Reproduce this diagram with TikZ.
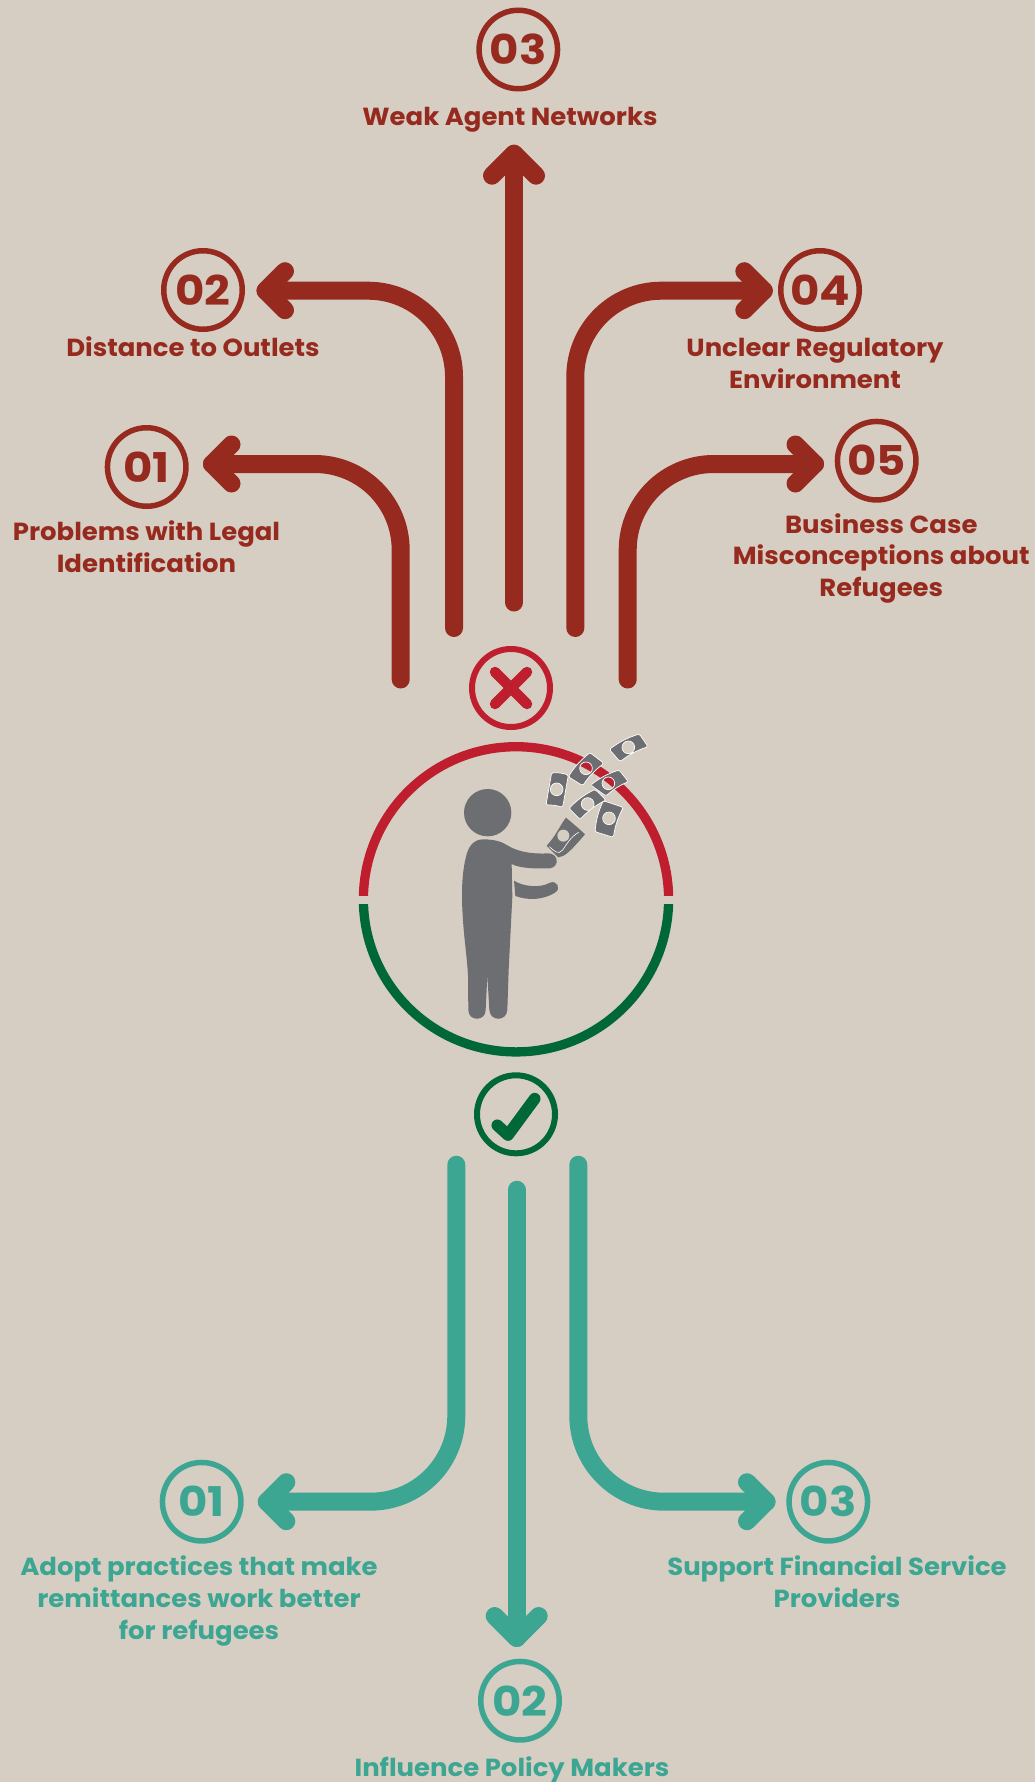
\documentclass[tikz,border=0pt]{standalone}
\usepackage{fontspec}
\setmainfont{Poppins}[UprightFont=* Bold,FakeStretch=1.05]
\newfontfamily\digitfont{Poppins}[UprightFont=* Bold,FakeStretch=1.1]
\usetikzlibrary{calc}
\definecolor{bgc}{HTML}{D7CEC3}
\definecolor{rust}{HTML}{962A1E}
\definecolor{teal}{HTML}{3DA693}
\definecolor{crim}{HTML}{BE1E2D}
\definecolor{forest}{HTML}{006838}
\definecolor{slategray}{HTML}{6D6E71}
\tikzset{
  numc/.style={circle,draw=#1,text=#1,line width=5.5pt,minimum size=78.5pt,inner sep=0pt,font=\digitfont\fontsize{41}{41}\selectfont},
  lab/.style={text=#1,anchor=base,align=center,inner sep=0pt,font=\fontsize{24.7}{31.6}\selectfont},
  flow/.style={draw=#1,line width=18pt,line cap=round,line join=round,rounded corners=86pt},
  head/.style={draw=#1,line width=18pt,line cap=round,line join=round},
  billshape/.style={fill=slategray,draw=white,line width=0.7pt,even odd rule,line join=round,rounded corners=1.5pt},
}
\newcommand{\billat}[6]{% four corners, hole centre, hole radius
  \path[billshape] #1 to[bend left=9] #2 -- #3 to[bend right=9] #4 -- cycle #5 circle[radius=#6];}
\begin{document}
\begin{tikzpicture}[x=1pt,y=-1pt]
\useasboundingbox (0,0) rectangle (1035,1782);
\fill[bgc] (0,0) rectangle (1035,1782);

% upper numbered circles
\node[numc=rust] (r1) at (146.7,467) {01};
\node[numc=rust] (r2) at (203,290) {02};
\node[numc=rust] (r3) at (518.3,49.5) {03};
\node[numc=rust] (r4) at (820,290) {04};
\node[numc=rust] (r5) at (876.7,460.7) {05};
\node[lab=rust] (l1) at (146.5,572.3) {Problems with Legal\\Identification};
\node[lab=rust] (l2) at (193,356) {Distance to Outlets};
\node[lab=rust] (l3) at (510,125.7) {Weak Agent Networks};
\node[lab=rust] (l4) at (815,388.3) {Unclear Regulatory\\Environment};
\node[lab=rust] (l5) at (881.3,596.5) {Business Case\\Misconceptions about\\Refugees};

% upper connectors
\coordinate (s1) at (400.7,679.5); \coordinate (t1) at (212,464);
\coordinate (s2) at (454,628);     \coordinate (t2) at (265.5,290.7);
\coordinate (s3) at (514,602.5);   \coordinate (t3) at (514,153.7);
\coordinate (s4) at (575.3,628);   \coordinate (t4) at (763.8,290.7);
\coordinate (s5) at (627.7,679.5); \coordinate (t5) at (815,464);
\path[flow=rust] (s1) |- (t1);
\path[flow=rust] (s2) |- (t2);
\path[flow=rust] (s3) -- (t3);
\path[flow=rust] (s4) |- (t4);
\path[flow=rust] (s5) |- (t5);
\path[head=rust] (t1) ++(19.5,-19.5) -- ++(-19.5,19.5) -- ++(19.5,19.5);
\path[head=rust] (t2) ++(19.5,-19.5) -- ++(-19.5,19.5) -- ++(19.5,19.5);
\path[head=rust] (t3) ++(-22,22) -- ++(22,-22) -- ++(22,22);
\path[head=rust] (t4) ++(-19.5,-19.5) -- ++(19.5,19.5) -- ++(-19.5,19.5);
\path[head=rust] (t5) ++(-19.5,-19.5) -- ++(19.5,19.5) -- ++(-19.5,19.5);

% cross mark
\node[circle,draw=crim,line width=6pt,minimum size=78pt,inner sep=0pt] (cross) at (511,688) {};
\draw[crim,line width=10.5pt,line cap=round] (cross.center) ++(-16,-16) -- ++(32,32);
\draw[crim,line width=10.5pt,line cap=round] (cross.center) ++(16,-16) -- ++(-32,32);

% big ring, its two halves cut flat
\coordinate (ring) at (516,899.3);
\begin{scope}
\clip (340,730) rectangle (700,895);
\draw[crim,line width=9.3pt] (ring) circle[radius=152.6];
\end{scope}
\begin{scope}
\clip (340,904) rectangle (700,1070);
\draw[forest,line width=9.3pt] (ring) circle[radius=152.6];
\end{scope}

% flying banknotes
\begin{scope}[shift={(520,720)},x=0.33333pt,y=-0.33333pt]
\billat{(268,88)}{(358,42)}{(384,80)}{(300,125)}{(325,82)}{19}
\billat{(145,170)}{(210,98)}{(252,130)}{(188,197)}{(198,145)}{19}
\billat{(95,158)}{(145,165)}{(128,262)}{(78,255)}{(110,208)}{19}
\billat{(212,195)}{(297,150)}{(325,185)}{(258,228)}{(265,190)}{19}
\billat{(147,265)}{(225,208)}{(258,240)}{(180,298)}{(203,252)}{19}
\billat{(225,335)}{(250,242)}{(310,262)}{(280,352)}{(267,295)}{19}
\end{scope}

% banknotes in the hand
\begin{scope}[shift={(540,805)},x=0.33333pt,y=-0.33333pt]
\fill[slategray] (20,122) -- (55,157) .. controls (75,155) and (90,140) .. (135,88) -- (118,72) -- (78,38) .. controls (60,60) and (50,90) .. (20,122) -- cycle;
\draw[white,line width=0.6pt] (28,125) .. controls (45,140) and (55,150) .. (68,135) .. controls (80,118) and (92,95) .. (116,82);
\fill[bgc] (70,92) circle[radius=18];
\end{scope}

% person
\begin{scope}[shift={(340,630)},x=0.33333pt,y=-0.33333pt]
\fill[slategray] (443,548) circle[radius=71];
\fill[slategray] (430,628) .. controls (400,628) and (385,650) .. (378,680)
  .. controls (368,720) and (366,760) .. (366,800)
  .. controls (367,900) and (382,980) .. (384,1040)
  -- (385,1140) .. controls (385,1175) and (437,1175) .. (437,1140)
  -- (442,1035) -- (448,1140) .. controls (450,1175) and (500,1175) .. (502,1140)
  -- (506,1020) -- (517,800) -- (515,702)
  .. controls (540,715) and (580,716) .. (630,715)
  .. controls (660,710) and (655,670) .. (625,670)
  .. controls (590,672) and (540,670) .. (500,645)
  .. controls (480,632) and (455,628) .. (430,628) -- cycle;
\fill[slategray] (522,752) .. controls (550,770) and (600,775) .. (630,758)
  .. controls (650,750) and (665,775) .. (645,788)
  .. controls (610,810) and (565,812) .. (526,798) -- cycle;
\end{scope}

% check mark
\node[circle,draw=forest,line width=6pt,minimum size=78pt,inner sep=0pt] (check) at (516,1114.3) {};
\draw[forest,line width=11.7pt,line cap=round,line join=round] (497.3,1125.3) -- (508,1135) -- (534.7,1098.7);

% lower numbered circles
\node[numc=teal] (g1) at (201.7,1501.7) {01};
\node[numc=teal] (g2) at (520,1700.7) {02};
\node[numc=teal] (g3) at (828.3,1501.7) {03};
\node[lab=teal] (m1) at (199,1639) {Adopt practices that make\\remittances work better\\for refugees};
\node[lab=teal] (m2) at (512,1776.3) {Influence Policy Makers};
\node[lab=teal] (m3) at (837,1607.3) {Support Financial Service\\Providers};

% lower connectors
\coordinate (u1) at (456.3,1164.7); \coordinate (v1) at (266.8,1501.7);
\coordinate (u2) at (516.7,1189.7); \coordinate (v2) at (516.7,1638);
\coordinate (u3) at (578.3,1164.7); \coordinate (v3) at (766.5,1501.7);
\path[flow=teal] (u1) |- (v1);
\path[flow=teal] (u2) -- (v2);
\path[flow=teal] (u3) |- (v3);
\path[head=teal] (v1) ++(19.5,-19.5) -- ++(-19.5,19.5) -- ++(19.5,19.5);
\path[head=teal] (v2) ++(-22,-22) -- ++(22,22) -- ++(22,-22);
\path[head=teal] (v3) ++(-19.5,-19.5) -- ++(19.5,19.5) -- ++(-19.5,19.5);
\end{tikzpicture}
\end{document}
